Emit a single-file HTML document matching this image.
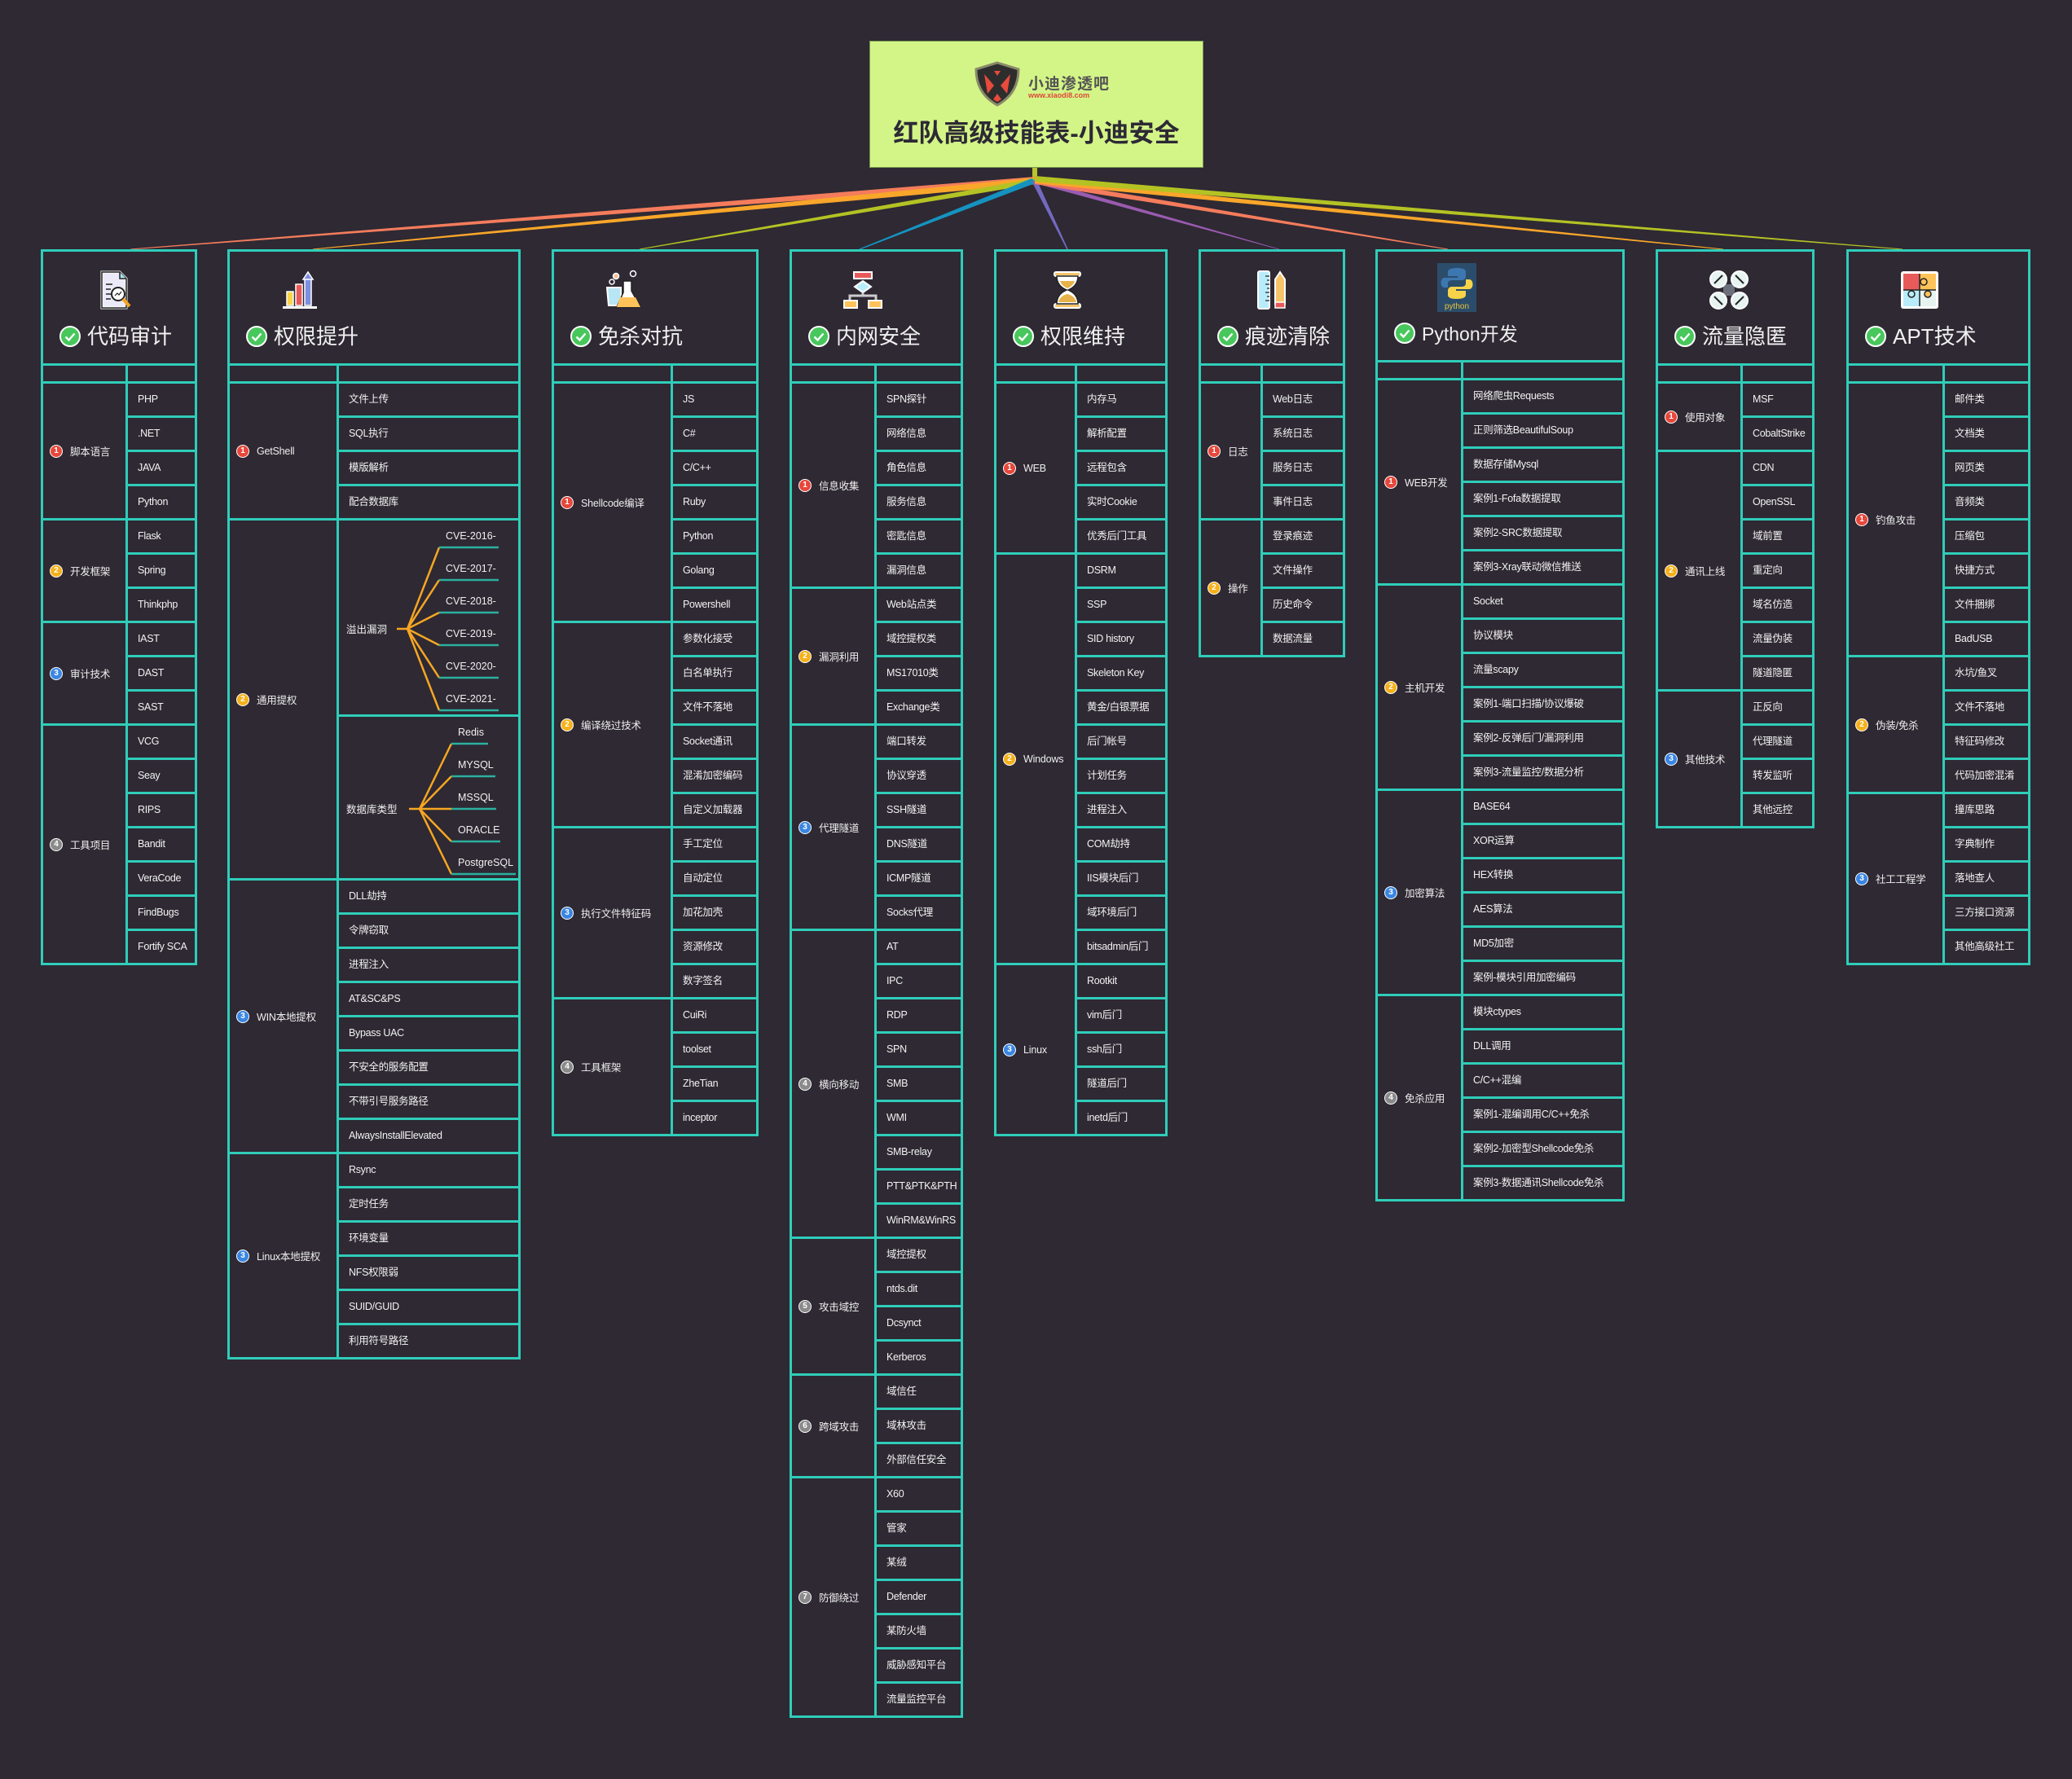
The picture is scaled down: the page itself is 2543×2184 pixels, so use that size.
<!DOCTYPE html>
<html><head><meta charset="utf-8"><style>
html,body{margin:0;padding:0}
body{width:2543px;height:2184px;background:#2e2933;position:relative;overflow:hidden;font-family:"Liberation Sans","Noto Sans CJK SC",sans-serif}
.c{position:absolute;top:306px;border:3px solid #2fcdb9;box-sizing:border-box;background:#2e2933}
.h{height:137px;position:relative}
.h .ic{position:absolute;left:62px;top:22px;width:50px;height:50px}
.h .ck{position:absolute;left:20px;top:91px;width:26px;height:26px}
.h .t{position:absolute;left:54px;top:89px;font-size:26px;line-height:30px;color:#f0f0f0;white-space:nowrap}
.r0{display:flex;height:22px;border-top:3px solid #2fcdb9;box-sizing:border-box}
.r0 i{width:var(--lw);border-right:3px solid #2fcdb9;box-sizing:border-box}
.g{display:flex}
.l{width:var(--lw);flex:none;border-top:3px solid #2fcdb9;border-right:3px solid #2fcdb9;box-sizing:border-box;display:flex;align-items:center;padding-left:8px;font-size:12.5px;letter-spacing:-0.2px;color:#eee;white-space:nowrap}
.R{flex:1}
.R p{margin:0;height:42px;border-top:3px solid #2fcdb9;box-sizing:border-box;line-height:39px;padding-left:12px;font-size:12.5px;letter-spacing:-0.3px;white-space:nowrap;color:#f2f2f2;overflow:hidden}
.R .sub{border-top:3px solid #2fcdb9;box-sizing:border-box}
s{display:inline-block;flex:none;width:16px;height:16px;border-radius:50%;border:1.5px solid #fff;box-sizing:border-box;font-size:10px;line-height:13px;text-align:center;color:#fff;font-weight:bold;margin-right:9px;text-decoration:none;letter-spacing:0}
.n1{background:#e8473b}.n2{background:#f6b11a}.n3{background:#3a86e3}.n4{background:#8a8a8a}
</style></head><body>

<svg style="position:absolute;left:0;top:0" width="2543" height="2184">
<rect x="1267" y="205" width="6" height="18" fill="#b9c52a"/>
<polygon points="1270,217 1270,225 160,306.5 160,305.5" fill="#f47c5c"/>
<polygon points="1270,218 1270,226 384,306.5 384,305.5" fill="#f9a62a"/>
<polygon points="1270,219 1270,226 785,306.5 785,305.5" fill="#b4c224"/>
<polygon points="1266,219 1273,224 1055.5,306.5 1054.5,305.5" fill="#1593c0"/>
<polygon points="1266,222 1273,222 1310.8,306 1309.2,306" fill="#7469c0"/>
<polygon points="1270,219 1270,225 1570.5,306.5 1569.5,305.5" fill="#9a5bb0"/>
<polygon points="1270,219 1270,226 1777,306.5 1777,305.5" fill="#f47c5c"/>
<polygon points="1270,218 1270,225 2115,306.5 2115,305.5" fill="#f9a62a"/>
<polygon points="1270,216 1270,223 2335,306.5 2335,305.5" fill="#b4c224"/>
</svg>

<div style="position:absolute;left:1067px;top:50px;width:410px;height:156px;background:#d3f587;border:1px solid #7d9a50;box-sizing:border-box">
<svg style="position:absolute;left:126px;top:24px" width="60" height="56" viewBox="0 0 60 56"><path d="M30 2 L56 10 Q56 40 30 54 Q4 40 4 10 Z" fill="#2d2d2d" stroke="#8a8a6a" stroke-width="3"/><path d="M14 16 L26 30 L18 40 Z M46 16 L34 30 L42 40 Z M30 40 L35 47 L30 50 L25 47 Z M26 12 L34 12 L30 18 Z" fill="#e84a3c"/></svg>
<div style="position:absolute;left:194px;top:37px;font-size:19px;font-weight:bold;color:#555;letter-spacing:1px">小迪渗透吧</div>
<div style="position:absolute;left:194px;top:61px;font-size:9px;font-weight:bold;color:#e0473a">www.xiaodi8.com</div>
<div style="position:absolute;left:0;width:408px;top:94px;text-align:center;font-size:31px;font-weight:bold;color:#2d2935;line-height:38px">红队高级技能表-小迪安全</div>
</div>

<div class="c" style="left:50px;width:192px;--lw:104px">
<div class="h">
<svg class="ic" viewBox="0 0 50 50"><path d="M10 3 H32 L40 11 V47 H10 Z" fill="#eceaf8" stroke="#fff" stroke-width="3"/><path d="M10 3 H32 L40 11 V47 H10 Z" fill="none" stroke="#222" stroke-width="1.5"/><path d="M32 3 V11 H40" fill="#a6e3f0" stroke="#222" stroke-width="1.5"/><path d="M15 18h8M15 24h6M15 30h6M15 36h6" stroke="#222" stroke-width="1.5"/><circle cx="30" cy="30" r="8" fill="#fff" stroke="#222" stroke-width="2"/><path d="M26 32l3-3 2 2 3-4" stroke="#222" fill="none" stroke-width="1.2"/><path d="M36 36 L44 45" stroke="#f6a623" stroke-width="4"/></svg>
<svg class="ck" viewBox="0 0 26 26"><circle cx="13" cy="13" r="12" fill="#48c75c" stroke="#fff" stroke-width="2"/><path d="M7.5 13.5l4 4 7-8" stroke="#fff" stroke-width="2.4" fill="none"/></svg>
<div class="t">代码审计</div></div>
<div class="r0"><i></i></div>
<div class="g"><div class="l"><s class="n1">1</s>脚本语言</div><div class="R"><p>PHP</p><p>.NET</p><p>JAVA</p><p>Python</p></div></div>
<div class="g"><div class="l"><s class="n2">2</s>开发框架</div><div class="R"><p>Flask</p><p>Spring</p><p>Thinkphp</p></div></div>
<div class="g"><div class="l"><s class="n3">3</s>审计技术</div><div class="R"><p>IAST</p><p>DAST</p><p>SAST</p></div></div>
<div class="g"><div class="l"><s class="n4">4</s>工具项目</div><div class="R"><p>VCG</p><p>Seay</p><p>RIPS</p><p>Bandit</p><p>VeraCode</p><p>FindBugs</p><p>Fortify SCA</p></div></div>
</div>

<div class="c" style="left:279px;width:360px;--lw:134px">
<div class="h">
<svg class="ic" viewBox="0 0 50 50"><rect x="8" y="27" width="8" height="17" fill="#f9d44a" stroke="#fff" stroke-width="1.5"/><rect x="19" y="18" width="8" height="26" fill="#e85a5a" stroke="#fff" stroke-width="1.5"/><rect x="30" y="10" width="8" height="34" fill="#7e8fe0" stroke="#fff" stroke-width="1.5"/><path d="M28 12 L34 3 L40 12 Z" fill="#7e8fe0" stroke="#fff" stroke-width="1.5"/><rect x="3" y="45" width="42" height="3" fill="#fff"/></svg>
<svg class="ck" viewBox="0 0 26 26"><circle cx="13" cy="13" r="12" fill="#48c75c" stroke="#fff" stroke-width="2"/><path d="M7.5 13.5l4 4 7-8" stroke="#fff" stroke-width="2.4" fill="none"/></svg>
<div class="t">权限提升</div></div>
<div class="r0"><i></i></div>
<div class="g"><div class="l"><s class="n1">1</s>GetShell</div><div class="R"><p>文件上传</p><p>SQL执行</p><p>模版解析</p><p>配合数据库</p></div></div>
<div class="g"><div class="l"><s class="n2">2</s>通用提权</div><div class="R"><div class="sub" style="height:241px"></div><div class="sub" style="height:201px"></div></div></div>
<div class="g"><div class="l"><s class="n3">3</s>WIN本地提权</div><div class="R"><p>DLL劫持</p><p>令牌窃取</p><p>进程注入</p><p>AT&amp;SC&amp;PS</p><p>Bypass UAC</p><p>不安全的服务配置</p><p>不带引号服务路径</p><p>AlwaysInstallElevated</p></div></div>
<div class="g"><div class="l"><s class="n3">3</s>Linux本地提权</div><div class="R"><p>Rsync</p><p>定时任务</p><p>环境变量</p><p>NFS权限弱</p><p>SUID/GUID</p><p>利用符号路径</p></div></div>
</div>

<div class="c" style="left:677px;width:254px;--lw:146px">
<div class="h">
<svg class="ic" viewBox="0 0 50 50"><path d="M3 22 H20 V44 H5 Z" fill="#b8e6f5" stroke="#fff" stroke-width="2"/><path d="M23 14 H33 V26 L44 46 H15 L23 28 Z" fill="#fff" stroke="#222" stroke-width="1.5"/><path d="M19 34 H38 L44 46 H15 Z" fill="#ffc35a"/><circle cx="14" cy="8" r="3.5" fill="#f6c09a" stroke="#fff" stroke-width="1.5"/><circle cx="9" cy="15" r="3" fill="none" stroke="#fff" stroke-width="1.5"/><circle cx="35" cy="5" r="3.5" fill="none" stroke="#fff" stroke-width="1.5"/></svg>
<svg class="ck" viewBox="0 0 26 26"><circle cx="13" cy="13" r="12" fill="#48c75c" stroke="#fff" stroke-width="2"/><path d="M7.5 13.5l4 4 7-8" stroke="#fff" stroke-width="2.4" fill="none"/></svg>
<div class="t">免杀对抗</div></div>
<div class="r0"><i></i></div>
<div class="g"><div class="l"><s class="n1">1</s>Shellcode编译</div><div class="R"><p>JS</p><p>C#</p><p>C/C++</p><p>Ruby</p><p>Python</p><p>Golang</p><p>Powershell</p></div></div>
<div class="g"><div class="l"><s class="n2">2</s>编译绕过技术</div><div class="R"><p>参数化接受</p><p>白名单执行</p><p>文件不落地</p><p>Socket通讯</p><p>混淆加密编码</p><p>自定义加载器</p></div></div>
<div class="g"><div class="l"><s class="n3">3</s>执行文件特征码</div><div class="R"><p>手工定位</p><p>自动定位</p><p>加花加壳</p><p>资源修改</p><p>数字签名</p></div></div>
<div class="g"><div class="l"><s class="n4">4</s>工具框架</div><div class="R"><p>CuiRi</p><p>toolset</p><p>ZheTian</p><p>inceptor</p></div></div>
</div>

<div class="c" style="left:969px;width:213px;--lw:104px">
<div class="h">
<svg class="ic" viewBox="0 0 50 50"><rect x="14" y="3" width="22" height="8" fill="#e85a5a" stroke="#fff" stroke-width="2"/><path d="M25 14 L35 21 L25 28 L15 21 Z" fill="#b9ecfb" stroke="#fff" stroke-width="2"/><path d="M25 28 V32 M9 38 V32 H41 V38" stroke="#ccc" stroke-width="3" fill="none"/><rect x="2" y="38" width="16" height="9" fill="#ffc35a" stroke="#fff" stroke-width="2"/><rect x="32" y="38" width="16" height="9" fill="#ffc35a" stroke="#fff" stroke-width="2"/></svg>
<svg class="ck" viewBox="0 0 26 26"><circle cx="13" cy="13" r="12" fill="#48c75c" stroke="#fff" stroke-width="2"/><path d="M7.5 13.5l4 4 7-8" stroke="#fff" stroke-width="2.4" fill="none"/></svg>
<div class="t">内网安全</div></div>
<div class="r0"><i></i></div>
<div class="g"><div class="l"><s class="n1">1</s>信息收集</div><div class="R"><p>SPN探针</p><p>网络信息</p><p>角色信息</p><p>服务信息</p><p>密匙信息</p><p>漏洞信息</p></div></div>
<div class="g"><div class="l"><s class="n2">2</s>漏洞利用</div><div class="R"><p>Web站点类</p><p>域控提权类</p><p>MS17010类</p><p>Exchange类</p></div></div>
<div class="g"><div class="l"><s class="n3">3</s>代理隧道</div><div class="R"><p>端口转发</p><p>协议穿透</p><p>SSH隧道</p><p>DNS隧道</p><p>ICMP隧道</p><p>Socks代理</p></div></div>
<div class="g"><div class="l"><s class="n4">4</s>横向移动</div><div class="R"><p>AT</p><p>IPC</p><p>RDP</p><p>SPN</p><p>SMB</p><p>WMI</p><p>SMB-relay</p><p>PTT&amp;PTK&amp;PTH</p><p>WinRM&amp;WinRS</p></div></div>
<div class="g"><div class="l"><s class="n4">5</s>攻击域控</div><div class="R"><p>域控提权</p><p>ntds.dit</p><p>Dcsynct</p><p>Kerberos</p></div></div>
<div class="g"><div class="l"><s class="n4">6</s>跨域攻击</div><div class="R"><p>域信任</p><p>域林攻击</p><p>外部信任安全</p></div></div>
<div class="g"><div class="l"><s class="n4">7</s>防御绕过</div><div class="R"><p>X60</p><p>管家</p><p>某绒</p><p>Defender</p><p>某防火墙</p><p>威胁感知平台</p><p>流量监控平台</p></div></div>
</div>

<div class="c" style="left:1220px;width:213px;--lw:99px">
<div class="h">
<svg class="ic" viewBox="0 0 50 50"><rect x="9" y="3" width="32" height="5" rx="2" fill="#f6c46a" stroke="#fff" stroke-width="2"/><rect x="9" y="42" width="32" height="5" rx="2" fill="#f6c46a" stroke="#fff" stroke-width="2"/><path d="M12 8 Q12 20 24 25 Q12 30 12 42 H38 Q38 30 26 25 Q38 20 38 8 Z" fill="#fff" stroke="#222" stroke-width="1.5"/><path d="M16 14 H34 Q32 20 25 23 Q18 20 16 14 Z M14 40 Q16 32 25 30 Q34 32 36 40 Z" fill="#e8b24a"/></svg>
<svg class="ck" viewBox="0 0 26 26"><circle cx="13" cy="13" r="12" fill="#48c75c" stroke="#fff" stroke-width="2"/><path d="M7.5 13.5l4 4 7-8" stroke="#fff" stroke-width="2.4" fill="none"/></svg>
<div class="t">权限维持</div></div>
<div class="r0"><i></i></div>
<div class="g"><div class="l"><s class="n1">1</s>WEB</div><div class="R"><p>内存马</p><p>解析配置</p><p>远程包含</p><p>实时Cookie</p><p>优秀后门工具</p></div></div>
<div class="g"><div class="l"><s class="n2">2</s>Windows</div><div class="R"><p>DSRM</p><p>SSP</p><p>SID history</p><p>Skeleton Key</p><p>黄金/白银票据</p><p>后门帐号</p><p>计划任务</p><p>进程注入</p><p>COM劫持</p><p>IIS模块后门</p><p>域环境后门</p><p>bitsadmin后门</p></div></div>
<div class="g"><div class="l"><s class="n3">3</s>Linux</div><div class="R"><p>Rootkit</p><p>vim后门</p><p>ssh后门</p><p>隧道后门</p><p>inetd后门</p></div></div>
</div>

<div class="c" style="left:1471px;width:180px;--lw:76px">
<div class="h">
<svg class="ic" viewBox="0 0 50 50"><rect x="8" y="2" width="14" height="46" rx="2" fill="#b9ecfb" stroke="#fff" stroke-width="2"/><path d="M17 8h5M19 13h3M17 18h5M19 23h3M17 28h5M19 33h3M17 38h5" stroke="#222" stroke-width="1.2"/><path d="M29 12 L35 3 L41 12 V42 H29 Z" fill="#f6c46a" stroke="#fff" stroke-width="2"/><rect x="29" y="40" width="12" height="7" fill="#e85a5a" stroke="#fff" stroke-width="1.5"/></svg>
<svg class="ck" viewBox="0 0 26 26"><circle cx="13" cy="13" r="12" fill="#48c75c" stroke="#fff" stroke-width="2"/><path d="M7.5 13.5l4 4 7-8" stroke="#fff" stroke-width="2.4" fill="none"/></svg>
<div class="t">痕迹清除</div></div>
<div class="r0"><i></i></div>
<div class="g"><div class="l"><s class="n1">1</s>日志</div><div class="R"><p>Web日志</p><p>系统日志</p><p>服务日志</p><p>事件日志</p></div></div>
<div class="g"><div class="l"><s class="n2">2</s>操作</div><div class="R"><p>登录痕迹</p><p>文件操作</p><p>历史命令</p><p>数据流量</p></div></div>
</div>

<div class="c" style="left:1688px;width:306px;--lw:105px">
<div class="h" style="height:133px">
<svg style="position:absolute;left:73px;top:14px" width="48" height="60" viewBox="0 0 48 60"><rect width="48" height="60" fill="#2b4d6b"/><path d="M24 6 C12 6 13 11 13 11 V16 H25 V18 H9 C3 18 3 30 9 30 H13 V25 C13 22 16 21 18 21 H30 C33 21 35 19 35 16 V11 C35 7 30 6 24 6 Z" fill="#3d77b0"/><path d="M24 44 C36 44 35 39 35 39 V34 H23 V32 H39 C45 32 45 20 39 20 H35 V25 C35 28 32 29 30 29 H18 C15 29 13 31 13 34 V39 C13 43 18 44 24 44 Z" fill="#f6d348"/><text x="24" y="56" font-size="10" fill="#e8c43a" text-anchor="middle" font-family="Liberation Sans">python</text></svg>
<svg class="ck" style="top:87px" viewBox="0 0 26 26"><circle cx="13" cy="13" r="12" fill="#48c75c" stroke="#fff" stroke-width="2"/><path d="M7.5 13.5l4 4 7-8" stroke="#fff" stroke-width="2.4" fill="none"/></svg>
<div class="t" style="top:86px;font-size:23px">Python开发</div></div>
<div class="r0"><i></i></div>
<div class="g"><div class="l"><s class="n1">1</s>WEB开发</div><div class="R"><p>网络爬虫Requests</p><p>正则筛选BeautifulSoup</p><p>数据存储Mysql</p><p>案例1-Fofa数据提取</p><p>案例2-SRC数据提取</p><p>案例3-Xray联动微信推送</p></div></div>
<div class="g"><div class="l"><s class="n2">2</s>主机开发</div><div class="R"><p>Socket</p><p>协议模块</p><p>流量scapy</p><p>案例1-端口扫描/协议爆破</p><p>案例2-反弹后门/漏洞利用</p><p>案例3-流量监控/数据分析</p></div></div>
<div class="g"><div class="l"><s class="n3">3</s>加密算法</div><div class="R"><p>BASE64</p><p>XOR运算</p><p>HEX转换</p><p>AES算法</p><p>MD5加密</p><p>案例-模块引用加密编码</p></div></div>
<div class="g"><div class="l"><s class="n4">4</s>免杀应用</div><div class="R"><p>模块ctypes</p><p>DLL调用</p><p>C/C++混编</p><p>案例1-混编调用C/C++免杀</p><p>案例2-加密型Shellcode免杀</p><p>案例3-数据通讯Shellcode免杀</p></div></div>
</div>

<div class="c" style="left:2032px;width:195px;--lw:104px">
<div class="h">
<svg class="ic" viewBox="0 0 50 50"><rect x="18" y="18" width="14" height="14" rx="4" fill="#6b6f7a"/><path d="M19 19 L13 13 M31 19 L37 13 M19 31 L13 37 M31 31 L37 37" stroke="#fff" stroke-width="3"/><g fill="#e6f3f1" stroke="#fff" stroke-width="2"><circle cx="12" cy="12" r="10"/><circle cx="38" cy="12" r="10"/><circle cx="12" cy="38" r="10"/><circle cx="38" cy="38" r="10"/></g><path d="M7 17 L17 7 M33 7 L43 17 M7 33 L17 43 M33 43 L43 33" stroke="#222" stroke-width="2"/></svg>
<svg class="ck" viewBox="0 0 26 26"><circle cx="13" cy="13" r="12" fill="#48c75c" stroke="#fff" stroke-width="2"/><path d="M7.5 13.5l4 4 7-8" stroke="#fff" stroke-width="2.4" fill="none"/></svg>
<div class="t">流量隐匿</div></div>
<div class="r0"><i></i></div>
<div class="g"><div class="l"><s class="n1">1</s>使用对象</div><div class="R"><p>MSF</p><p>CobaltStrike</p></div></div>
<div class="g"><div class="l"><s class="n2">2</s>通讯上线</div><div class="R"><p>CDN</p><p>OpenSSL</p><p>域前置</p><p>重定向</p><p>域名仿造</p><p>流量伪装</p><p>隧道隐匿</p></div></div>
<div class="g"><div class="l"><s class="n3">3</s>其他技术</div><div class="R"><p>正反向</p><p>代理隧道</p><p>转发监听</p><p>其他远控</p></div></div>
</div>

<div class="c" style="left:2266px;width:226px;--lw:118px">
<div class="h">
<svg class="ic" viewBox="0 0 50 50"><rect x="2" y="2" width="46" height="46" rx="3" fill="#fff"/><rect x="5" y="5" width="20" height="20" fill="#e85a5a"/><rect x="25" y="5" width="20" height="20" fill="#ffc35a"/><rect x="5" y="25" width="20" height="20" fill="#b9ecfb"/><rect x="25" y="25" width="20" height="20" fill="#e6f3f1"/><path d="M25 5 V45 M5 25 H45" stroke="#222" stroke-width="1.5"/><circle cx="30" cy="15" r="4" fill="#ffc35a" stroke="#222" stroke-width="1.5"/><circle cx="15" cy="30" r="4" fill="#b9ecfb" stroke="#222" stroke-width="1.5"/><circle cx="35" cy="30" r="4" fill="#ffc35a" stroke="#222" stroke-width="1.5"/></svg>
<svg class="ck" viewBox="0 0 26 26"><circle cx="13" cy="13" r="12" fill="#48c75c" stroke="#fff" stroke-width="2"/><path d="M7.5 13.5l4 4 7-8" stroke="#fff" stroke-width="2.4" fill="none"/></svg>
<div class="t">APT技术</div></div>
<div class="r0"><i></i></div>
<div class="g"><div class="l"><s class="n1">1</s>钓鱼攻击</div><div class="R"><p>邮件类</p><p>文档类</p><p>网页类</p><p>音频类</p><p>压缩包</p><p>快捷方式</p><p>文件捆绑</p><p>BadUSB</p></div></div>
<div class="g"><div class="l"><s class="n2">2</s>伪装/免杀</div><div class="R"><p>水坑/鱼叉</p><p>文件不落地</p><p>特征码修改</p><p>代码加密混淆</p></div></div>
<div class="g"><div class="l"><s class="n3">3</s>社工工程学</div><div class="R"><p>撞库思路</p><p>字典制作</p><p>落地查人</p><p>三方接口资源</p><p>其他高级社工</p></div></div>
</div>

<svg style="position:absolute;left:0;top:0" width="2543" height="2184" font-family="Liberation Sans, Noto Sans CJK SC, sans-serif" font-size="12.5" fill="#f0f0f0">
<g stroke="#f5a623" stroke-width="2.5" fill="none">
<path d="M487 772 H500 M500 772 L539 672 M500 772 L539 712 M500 772 L539 752 M500 772 L539 792 M500 772 L539 832 M500 772 L539 872"/>
<path d="M502 993 H515 M515 993 L554 913 M515 993 L554 953 M515 993 L554 993 M515 993 L554 1033 M515 993 L554 1073"/>
</g>
<g stroke="#2bb09e" stroke-width="2.5">
<path d="M539 672 H612 M539 712 H612 M539 752 H612 M539 792 H612 M539 832 H612 M539 872 H612"/>
<path d="M554 913 H599 M554 953 H608 M554 993 H609 M554 1033 H614 M554 1073 H633"/>
</g>
<text x="425" y="777">溢出漏洞</text>
<text x="425" y="998">数据库类型</text>
<text x="547" y="662">CVE-2016-</text><text x="547" y="702">CVE-2017-</text><text x="547" y="742">CVE-2018-</text><text x="547" y="782">CVE-2019-</text><text x="547" y="822">CVE-2020-</text><text x="547" y="862">CVE-2021-</text>
<text x="562" y="903">Redis</text><text x="562" y="943">MYSQL</text><text x="562" y="983">MSSQL</text><text x="562" y="1023">ORACLE</text><text x="562" y="1063">PostgreSQL</text>
</svg>
</body></html>
